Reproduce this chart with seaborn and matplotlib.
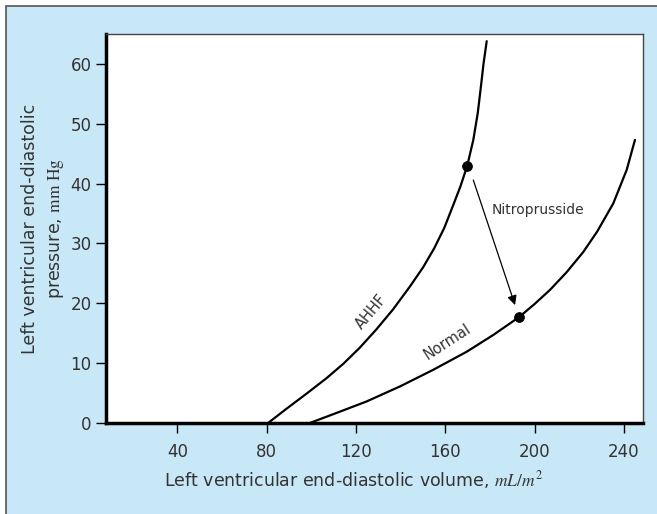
import matplotlib
matplotlib.use("Agg")
import matplotlib.pyplot as plt
import matplotlib.patches as mpatches
import seaborn as sns
import pandas as pd

# pressure-volume curves
ahhf_volume = [80.6, 88.9, 97.8, 106.8, 114.3, 121.7, 129.0, 136.6, 144.1, 150.0,
               155.0, 159.5, 163.5, 166.8, 169.8, 172.5, 174.5, 175.9, 177.1, 178.5]
ahhf_pressure = [0.0, 2.4, 4.9, 7.5, 9.9, 12.6, 15.6, 19.0, 22.8, 26.0,
                 29.2, 32.6, 36.4, 39.6, 43.0, 47.3, 51.8, 56.2, 60.1, 63.8]
normal_volume = [99.3, 112.8, 124.7, 139.6, 154.6, 169.5, 181.4, 193.0, 200.0, 207.0,
                 214.3, 221.8, 228.0, 235.2, 241.2, 244.9]
normal_pressure = [0.0, 1.9, 3.6, 6.1, 8.9, 11.9, 14.7, 17.7, 19.9, 22.3,
                   25.2, 28.6, 32.0, 36.7, 42.3, 47.3]

point_volume = [169.8, 193.0]
point_pressure = [43.0, 17.7]

x_ticks = [40, 80, 120, 160, 200, 240]
y_ticks = [0, 10, 20, 30, 40, 50, 60]

curves = pd.concat([
    pd.DataFrame({"volume": ahhf_volume, "pressure": ahhf_pressure, "curve": "AHHF"}),
    pd.DataFrame({"volume": normal_volume, "pressure": normal_pressure, "curve": "Normal"}),
])
points = pd.DataFrame({"volume": point_volume, "pressure": point_pressure})

sns.set_style("ticks")
plt.rcParams["font.family"] = ["DejaVu Sans"]
plt.rcParams["mathtext.fontset"] = "stix"

text_col = "#333333"
fig = plt.figure(figsize=(6.57, 5.14), dpi=100, facecolor="white")
# light blue panel with a dark edge on the left and top
fig.patches.append(mpatches.Rectangle((6 / 657, -0.1), 1.2, 1.1 - 6 / 514,
                                      transform=fig.transFigure, facecolor="#c8e8f8",
                                      edgecolor="#555555", linewidth=1.2, zorder=-1))
ax = fig.add_axes([106 / 657, 1 - 423 / 514, (643 - 106) / 657, (423 - 34) / 514])
ax.set_facecolor("white")

sns.lineplot(data=curves, x="volume", y="pressure", units="curve", estimator=None,
             sort=False, color="black", linewidth=1.6, ax=ax, legend=False)
sns.scatterplot(data=points, x="volume", y="pressure", color="black", s=50,
                edgecolor="black", ax=ax, zorder=5, legend=False)

ax.annotate("", xy=(191.2, 19.7), xytext=(172.5, 40.6),
            arrowprops=dict(arrowstyle="-|>", color="black", lw=0.9,
                            mutation_scale=14, shrinkA=0, shrinkB=0))
ax.text(180.8, 35.6, "Nitroprusside", fontsize=10, color=text_col, va="center", ha="left")
ax.text(126.6, 18.6, "AHHF", fontsize=10.5, color=text_col, rotation=50,
        ha="center", va="center")
ax.text(161.0, 13.6, "Normal", fontsize=10.5, color=text_col, rotation=33,
        ha="center", va="center")

ax.set_xlim(8, 248.5)
ax.set_ylim(0, 65)
ax.set_xticks(x_ticks)
ax.set_yticks(y_ticks)
ax.tick_params(axis="both", direction="out", length=7.5, width=1, colors="black",
               labelsize=12, labelcolor=text_col)
ax.tick_params(axis="x", pad=7)
ax.tick_params(axis="y", pad=3)

for side in ["left", "bottom"]:
    ax.spines[side].set_linewidth(2.5)
    ax.spines[side].set_color("black")
for side in ["top", "right"]:
    ax.spines[side].set_visible(True)
    ax.spines[side].set_linewidth(1)
    ax.spines[side].set_color("#444444")

ax.set_xlabel(r"Left ventricular end-diastolic volume, $mL/m^2$", fontsize=12.5,
              color=text_col)
ax.xaxis.set_label_coords(0.46, -0.118)
ax.set_ylabel("Left ventricular end-diastolic\n" + r"pressure, $\mathrm{mm\ Hg}$",
              fontsize=12.5, color=text_col, linespacing=1.5)
ax.yaxis.set_label_coords(-0.074, 0.5)

fig.savefig("out.png", dpi=100, facecolor=fig.get_facecolor())
